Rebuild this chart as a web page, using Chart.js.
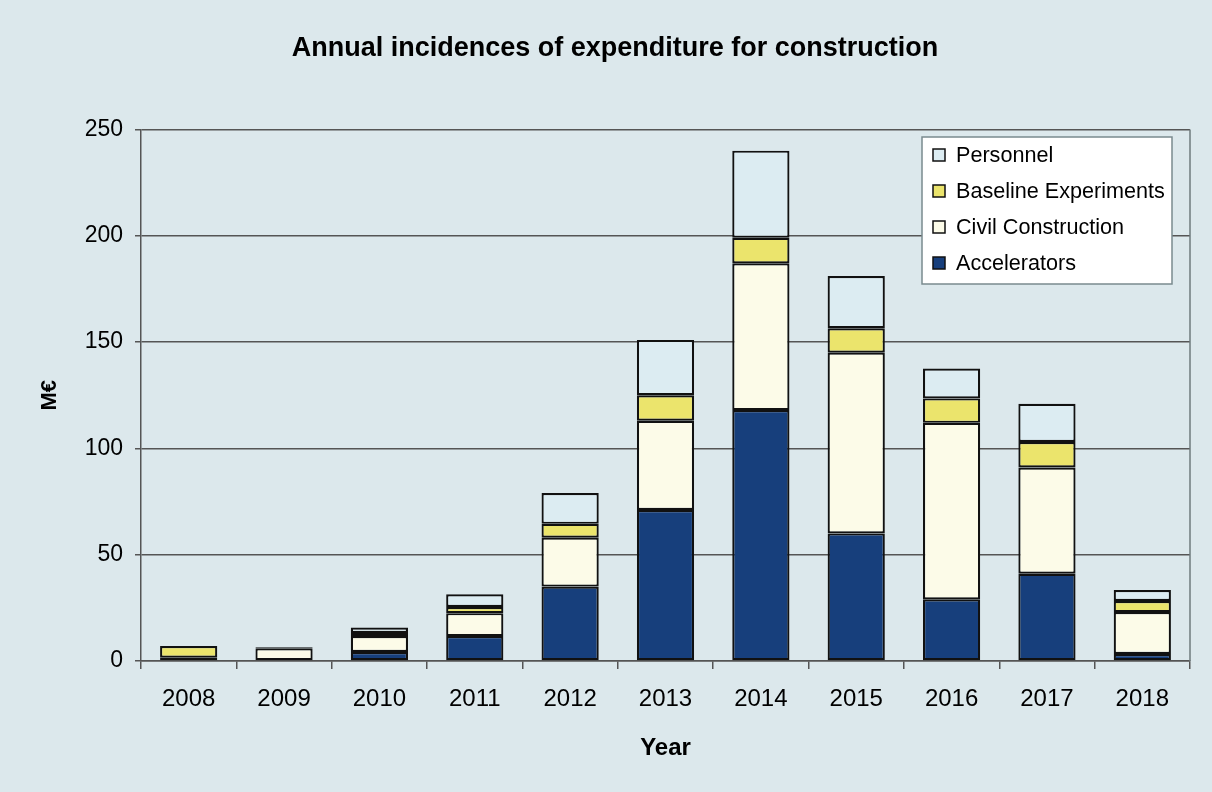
<!DOCTYPE html>
<html>
<head>
<meta charset="utf-8">
<script src="https://cdn.jsdelivr.net/npm/chart.js@4/dist/chart.umd.min.js"></script>
<style>
  html, body { margin: 0; padding: 0; background: #dce8ec; }
  #wrap { width: 1212px; height: 792px; }
</style>
</head>
<body>
<div id="wrap"><canvas id="chart"></canvas></div>
<script>
// data (M€)
const years = ["2008", "2009", "2010", "2011", "2012", "2013", "2014", "2015", "2016", "2017", "2018"];
const accelerators = [0, 0, 4.2, 11.7, 35, 71, 118, 60, 29, 41, 3.3];
const civilConstruction = [1.5, 6, 7.5, 10.8, 23, 42, 69, 85, 83, 50, 19.7];
const baselineExperiments = [5.5, 0, 1.5, 2.9, 6.5, 12, 12, 11.5, 11.5, 12, 5.2];
const personnel = [0, 0.5, 2.5, 6, 14.5, 26, 41, 24.5, 14, 18, 5.2];
const yTicks = [0, 50, 100, 150, 200, 250];

const FONT = 'Arial, "Liberation Sans", sans-serif';

// legend box drawn inside the plot, top-right, like the original
const legendBox = {
    id: "legendBox",
    afterDraw(chart) {
        const ctx = chart.ctx;
        const x = 922, y = 137, w = 250, h = 147;
        ctx.save();
        ctx.fillStyle = "#ffffff";
        ctx.fillRect(x, y, w, h);
        ctx.strokeStyle = "#7a8a8e";
        ctx.lineWidth = 1.5;
        ctx.strokeRect(x, y, w, h);
        // reverse order: top of stack first
        const sets = chart.data.datasets.slice().reverse();
        sets.forEach((ds, i) => {
            const cy = y + 18 + i * 36;
            ctx.fillStyle = ds.backgroundColor;
            ctx.fillRect(x + 11, cy - 6, 12, 12);
            ctx.strokeStyle = "#111";
            ctx.lineWidth = 1.5;
            ctx.strokeRect(x + 11, cy - 6, 12, 12);
            ctx.fillStyle = "#000";
            ctx.font = "21.6px " + FONT;
            ctx.textBaseline = "middle";
            ctx.fillText(ds.label, x + 34, cy + 1);
        });
        ctx.restore();
    }
};

// right border of the plot area
const plotBorder = {
    id: "plotBorder",
    beforeDatasetsDraw(chart) {
        const a = chart.chartArea, ctx = chart.ctx;
        ctx.save();
        ctx.strokeStyle = "#6f7b7e";
        ctx.lineWidth = 1.5;
        ctx.beginPath();
        ctx.moveTo(a.right, a.top);
        ctx.lineTo(a.right, a.bottom);
        ctx.stroke();
        ctx.restore();
    }
};

function makeSet(label, data, color) {
    return {
        label: label,
        data: data,
        backgroundColor: color,
        borderColor: "#111111",
        borderWidth: 2.2,
        borderSkipped: false,
        categoryPercentage: 1.0,
        barPercentage: 0.6
    };
}

new Chart(document.getElementById("chart"), {
    type: "bar",
    data: {
        labels: years,
        datasets: [
            makeSet("Accelerators", accelerators, "#173f7c"),
            makeSet("Civil Construction", civilConstruction, "#fcfbe8"),
            makeSet("Baseline Experiments", baselineExperiments, "#ebe46c"),
            makeSet("Personnel", personnel, "#dcecf2")
        ]
    },
    options: {
        responsive: true,
        maintainAspectRatio: false,
        animation: false,
        layout: { padding: { top: 10, right: 22, bottom: 0, left: 40 } },
        plugins: {
            legend: { display: false },
            tooltip: { enabled: false },
            title: {
                display: true,
                text: "Annual incidences of expenditure for construction",
                color: "#000",
                font: { family: FONT, size: 27, weight: "bold" },
                padding: { top: 22, bottom: 65 }
            }
        },
        scales: {
            x: {
                stacked: true,
                grid: { drawOnChartArea: false, drawTicks: true, tickLength: 8, color: "#555", lineWidth: 1.5 },
                border: { color: "#555", width: 1.5 },
                ticks: { color: "#000", font: { family: FONT, size: 24 }, padding: 16 },
                title: {
                    display: true,
                    text: "Year",
                    color: "#000",
                    font: { family: FONT, size: 24, weight: "bold" },
                    padding: { top: 10, bottom: 29 }
                },
                afterFit(scale) { scale.height = 131; }
            },
            y: {
                stacked: true,
                min: 0,
                max: 250,
                afterBuildTicks(scale) { scale.ticks = yTicks.map(v => ({ value: v })); },
                grid: { color: "#555", lineWidth: 1.5, tickLength: 6 },
                border: { color: "#555", width: 1.5 },
                ticks: { color: "#000", font: { family: FONT, size: 23 }, padding: 12 },
                title: {
                    display: true,
                    text: "M€",
                    color: "#000",
                    font: { family: FONT, size: 22, weight: "bold" },
                    padding: { top: -3, bottom: 0 }
                },
                afterFit(scale) { scale.width = 101; }
            }
        }
    },
    plugins: [legendBox, plotBorder]
});
</script>
</body>
</html>
